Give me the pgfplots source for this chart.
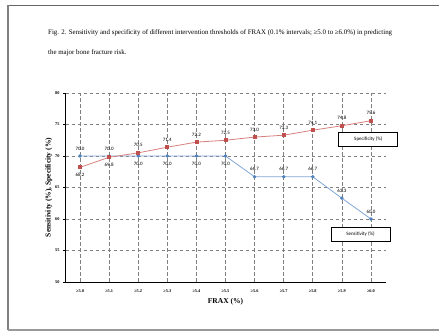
\documentclass[border=0pt]{standalone}
\usepackage{pgfplots}
\pgfplotsset{compat=1.18}
\usepackage{pgfplotstable}
\usepackage{fontspec}
\setmainfont{Liberation Serif}
\newfontfamily\carlito{Carlito}
\definecolor{specred}{RGB}{192,80,77}
\definecolor{specline}{RGB}{214,128,126}
\definecolor{sensblue}{RGB}{79,129,189}
\definecolor{sensline}{RGB}{130,166,214}
\pgfplotstableread{
x y dy
0 68.2 -7.5
1 69.8 -7.5
2 70.5 7.5
3 71.4 7.5
4 72.2 7.5
5 72.5 7.5
6 73.0 7.5
7 73.3 7.5
8 74.1 7.5
9 74.8 7.5
10 75.6 7.5
}\spec
\pgfplotstableread{
x y dy
0 70.0 7.5
1 70.0 7.5
2 70.0 -7.5
3 70.0 -7.5
4 70.0 -7.5
5 70.0 -7.5
6 66.7 7.5
7 66.7 7.5
8 66.7 7.5
9 63.3 7.5
10 60.0 7.5
}\sens
\pgfplotsset{lbl/.style={
  nodes near coords,
  point meta=explicit,
  visualization depends on={\thisrow{dy} \as \dy},
  every node near coord/.append style={/pgf/number format/fixed, /pgf/number format/fixed zerofill, /pgf/number format/precision=1, anchor=center, yshift=\dy, font=\carlito\fontsize{5}{6}\selectfont, text=black, inner sep=0pt}}}
\begin{document}
\begin{tikzpicture}[x=1pt,y=1pt]
\useasboundingbox (0,0) rectangle (439,331);
\draw[black!60, line width=1.2] (8,325.5) -- (439,325.5);
\draw[black!50, line width=1.3] (8,325.5) -- (8,1);
\draw[black!40, line width=1.5] (8,1) -- (439,1);
\node[anchor=west, inner sep=0, font=\fontsize{6.9}{8}\selectfont] at (48,298) {Fig. 2. Sensitivity and specificity of different intervention thresholds of FRAX (0.1\% intervals; ≥5.0 to ≥6.0\%) in predicting};
\node[anchor=west, inner sep=0, font=\fontsize{6.9}{8}\selectfont] at (48,278.3) {the major bone fracture risk.};
\begin{axis}[
  at={(65.5pt,49pt)}, anchor=south west,
  scale only axis, width=320pt, height=189pt,
  xmin=-0.5, xmax=10.5, ymin=50, ymax=80,
  axis x line=bottom, axis y line=left,
  axis line style={-, black, line width=0.9pt},
  xtick={0,...,10},
  xticklabels={≥5.0,≥5.1,≥5.2,≥5.3,≥5.4,≥5.5,≥5.6,≥5.7,≥5.8,≥5.9,≥6.0},
  ytick={50,55,...,80},
  grid=major,
  grid style={dash pattern=on 3.5pt off 2.5pt, black!50, line width=0.6pt},
  major x tick style={draw=none},
  major y tick style={black, line width=0.6pt},
  tick align=outside, major tick length=2.5pt,
  ticklabel style={font=\bfseries\fontsize{4.3}{5}\selectfont},
  xticklabel style={yshift=-2pt},
  /pgf/number format/assume math mode=true,
  xlabel={FRAX (\%)},
  ylabel={Sensitivity (\%), Specificity (\%)},
  xlabel style={font=\bfseries\fontsize{7.5}{8}\selectfont, yshift=2pt},
  ylabel style={font=\bfseries\fontsize{7.5}{8}\selectfont, yshift=-4pt},
  clip=false,
]
\addplot[lbl, color=sensline, line width=0.8pt, mark=*, mark size=1.3pt, mark options={fill=sensblue, draw=sensblue}] table[x=x,y=y,meta=y] {\sens};
\addplot[lbl, color=specline, line width=0.8pt, mark=square*, mark size=1.5pt, mark options={fill=specred, draw=specred}] table[x=x,y=y,meta=y] {\spec};
\node[draw=black, line width=0.8pt, fill=white, minimum width=59pt, minimum height=14pt, inner sep=0, font=\carlito\fontsize{5}{6}\selectfont] at (axis cs:9.91,72.7) {Specificity (\%)};
\node[draw=black, line width=0.8pt, fill=white, minimum width=59pt, minimum height=14pt, inner sep=0, font=\carlito\fontsize{5}{6}\selectfont] at (axis cs:9.64,57.6) {Sensitivity (\%)};
\end{axis}
\end{tikzpicture}
\end{document}
